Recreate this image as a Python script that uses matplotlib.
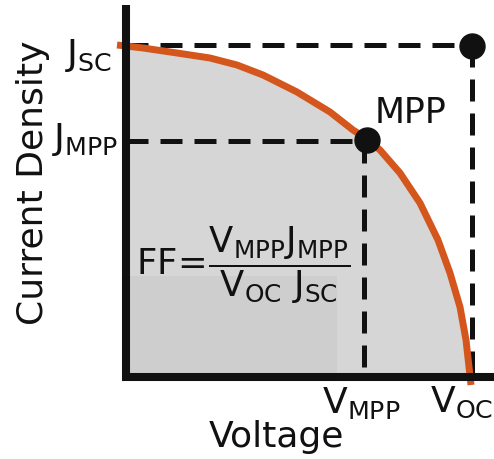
import numpy as np
import matplotlib
matplotlib.use('Agg')
import matplotlib.pyplot as plt
from matplotlib.patches import Rectangle

plt.rcParams['mathtext.default'] = 'regular'
plt.rcParams['font.family'] = 'DejaVu Sans'

# J-V curve (arbitrary units)
voltage = np.array([-9, 0, 17, 51, 84, 111, 137, 171, 204, 227, 241, 254,
                    274, 294, 312, 324, 334, 340, 343, 345])
current = np.array([332, 331, 329, 324, 319, 312, 302, 285, 265, 247, 238, 227,
                    204, 174, 137, 104, 70, 37, 10, -8])

v_oc, j_sc = 346, 332
v_mpp, j_mpp = 238, 236

ink = '#111111'
orange = '#d4561c'

fig = plt.figure(figsize=(4.94, 4.59), dpi=100)
ax = fig.add_axes([0, 0, 1, 1])
ax.set_xlim(-126, 368)
ax.set_ylim(-82, 377)
ax.axis('off')

# shaded area under the curve
m = (voltage >= 0) & (current >= 0)
ax.fill_between(voltage[m], current[m], 0, color='#d6d6d6', lw=0, zorder=1)

# dashed guides
dash = dict(color=ink, lw=3.6, dashes=(4.4, 2.4), zorder=2)
ax.plot([0, v_oc], [j_sc, j_sc], **dash)
ax.plot([v_oc, v_oc], [j_sc, 0], **dash)
ax.plot([0, v_mpp], [j_mpp, j_mpp], **dash)
ax.plot([v_mpp, v_mpp], [j_mpp, 0], **dash)

ax.plot(voltage, current, color=orange, lw=5, zorder=3,
        solid_capstyle='butt', solid_joinstyle='round')

ax.plot([v_mpp + 3], [j_mpp + 1], 'o', color=ink, ms=18, zorder=4)
ax.plot([v_oc], [j_sc - 1], 'o', color=ink, ms=18, zorder=4)

# axes
ax.plot([0, 0], [-3, 372], color=ink, lw=5.8, solid_capstyle='butt', zorder=5)
ax.plot([-4, 368], [0, 0], color=ink, lw=5.8, solid_capstyle='butt', zorder=5)

ax.add_patch(Rectangle((-4, -3), 215, 104, facecolor='black', alpha=0.035, lw=0, zorder=6))

fs = 26
ax.text(-14, 321, '$J_{SC}$', fontsize=fs, ha='right', va='center', color=ink)
ax.text(-8, 238, '$J_{MPP}$', fontsize=fs, ha='right', va='center', color=ink)
ax.text(235, -8, '$V_{MPP}$', fontsize=fs, ha='center', va='top', color=ink)
ax.text(336, -8, '$V_{OC}$', fontsize=fs, ha='center', va='top', color=ink)
ax.text(249, 254, 'MPP', fontsize=25, ha='left', va='baseline', color=ink)
ax.text(150, -60, 'Voltage', fontsize=fs, ha='center', va='center', color=ink)
ax.text(-93, 194, 'Current Density', fontsize=fs, ha='center', va='center',
        rotation=90, color=ink)
ax.text(117, 112, r'$FF\!=\!\dfrac{V_{MPP}J_{MPP}}{V_{OC}\ J_{SC}}$', fontsize=25.5,
        ha='center', va='center', color=ink, zorder=7)

fig.savefig('out.png', dpi=100)
